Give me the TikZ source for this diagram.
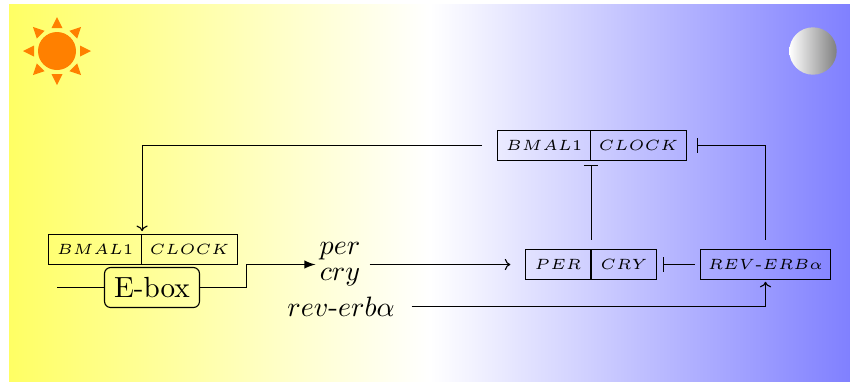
\documentclass[tikz,border=0pt]{standalone}
\usetikzlibrary{arrows.meta}
\def\pxu{0.357pt}
\definecolor{sunyellow}{RGB}{255,255,100}
\definecolor{nightblue}{RGB}{128,128,255}
\definecolor{sunorange}{RGB}{255,128,0}
\tikzset{
  px/.style={x=\pxu,y=-\pxu},
  genebox/.style={draw,rectangle,inner sep=0pt,minimum height=30*\pxu},
  wd/.style={minimum width=#1*\pxu},
  label text/.style={inner sep=0pt,font=\fontsize{10.4}{12}\selectfont},
  ray/.style={fill=sunorange,draw=none},
  link/.style={line width=0.4pt},
  activate/.style={link,-{Computer Modern Rightarrow[length=2pt,width=4pt]}},
  inhibit/.style={link,{Bar[width=5.2pt,line width=0.4pt]}-},
}
\newcommand{\gene}[1]{\scalebox{1.06}{\tiny $#1$}}
\begin{document}
\begin{tikzpicture}[px]
\useasboundingbox (0,0) rectangle (850,381);
% background
\shade[left color=sunyellow,right color=white,shading=axis,shading angle=90] (9,4) rectangle (430,381);
\shade[left color=white,right color=nightblue,shading=axis,shading angle=90] (430,4) rectangle (850,381);
% sun
\fill[sunorange] (57,51) circle[radius=19];
\foreach \a in {0,45,...,315}{
  \fill[ray,shift={(57,51)},rotate=\a] (34,0) -- (23,5.5) -- (23,-5.5) -- cycle;
}
% moon
\shade[left color=white,right color=black!50] (813,51) circle[radius=23.7];
% nodes
\node[genebox,wd=93] (bmalL) at (95,249.5) {\gene{BMAL1}};
\node[genebox,wd=96] (clockL) at (189.5,249.5) {\gene{CLOCK}};
\node[draw,rounded corners=2.2pt,inner sep=0pt,wd=95,minimum height=40*\pxu] (ebox) at (152,287.5) {\fontsize{10.4}{12}\selectfont E-box\hspace{0.3pt}};
\node[label text,wd=58,align=center] (genes) at (340,264.5) {$per$\\[-2.6pt]$cry$};
\node[label text,wd=140] (reverb) at (341,306.5) {$rev$-$erb\alpha$};
\node[genebox,wd=93] (bmalT) at (544,145.5) {\gene{BMAL1}};
\node[genebox,wd=96] (clockT) at (638.5,145.5) {\gene{CLOCK}};
\node[genebox,wd=65] (per) at (558,264.5) {\gene{PER}};
\node[genebox,wd=65] (cry) at (624,264.5) {\gene{CRY}};
\node[genebox,wd=130] (rev) at (765.5,264.5) {\gene{REV\mbox{-}ERB\alpha}};
\coordinate (left) at (57.3,287.5);
\coordinate (jog) at (246.5,287.5);
% connectors
\draw[link] (left) -- (ebox.west);
\draw[link,-latex,shorten >=-1.8pt] (ebox.east) -- (jog) |- (genes.west);
\draw[activate,shorten >=5.2pt] (genes.east) -- (per.west);
\draw[activate,shorten >=0.6pt] (reverb.east) -| (rev.south);
\draw[activate,shorten <=5.3pt,shorten >=1pt] (bmalT.west) -| (bmalL.north east);
\draw[inhibit,shorten <=1.3pt,shorten >=3.1pt] (bmalT.south east) -- (per.north east);
\draw[inhibit,shorten <=3.4pt,shorten >=3.1pt] (clockT.east) -| (rev.north);
\draw[inhibit,shorten <=2pt,shorten >=1.9pt] (cry.east) -- (rev.west);
\end{tikzpicture}
\end{document}
